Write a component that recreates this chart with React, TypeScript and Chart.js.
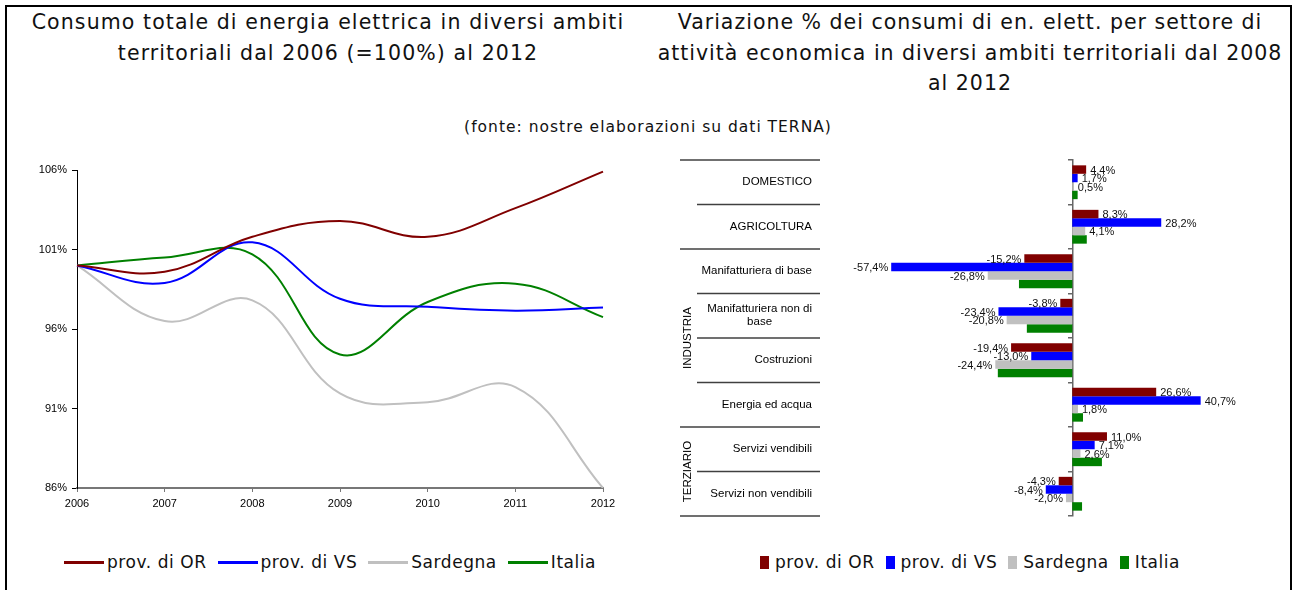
import React, { useEffect, useRef } from 'react';
import { Chart, registerables } from 'chart.js';

Chart.register(...registerables);

// ---------- Left chart data (2006 = 100%) ----------
const years = ['2006', '2007', '2008', '2009', '2010', '2011', '2012'];
const orLine = [100, 99.6, 101.8, 102.8, 101.8, 103.6, 105.9];
const vsLine = [100, 98.9, 101.45, 97.9, 97.4, 97.15, 97.35];
const sardLine = [100, 96.5, 97.8, 91.95, 91.4, 92.35, 86.0];
const italiaLine = [100, 100.5, 100.7, 94.4, 97.7, 98.85, 96.75];
const yTicksLeft = [86, 91, 96, 101, 106];

// ---------- Right chart data (variazione % 2008-2012) ----------
const sectors = [
  ['DOMESTICO'],
  ['AGRICOLTURA'],
  ['Manifatturiera di base'],
  ['Manifatturiera non di', 'base'],
  ['Costruzioni'],
  ['Energia ed acqua'],
  ['Servizi vendibili'],
  ['Servizi non vendibili'],
];
const orBar = [4.4, 8.3, -15.2, -3.8, -19.4, 26.6, 11.0, -4.3];
const vsBar = [1.7, 28.2, -57.4, -23.4, -13.0, 40.7, 7.1, -8.4];
const sardBar = [0.5, 4.1, -26.8, -20.8, -24.4, 1.8, 2.6, -2.0];
const italiaBar = [1.7, 4.6, -16.9, -14.4, -23.6, 3.4, 9.4, 3.1];
const groups = [
  { name: 'INDUSTRIA', from: 2, to: 5 },
  { name: 'TERZIARIO', from: 6, to: 7 },
];
const fullBoundaries = [0, 2, 6, 8];

const seriesNames = ['prov. di OR', 'prov. di VS', 'Sardegna', 'Italia'];
const seriesColors = ['#800000', '#0000ff', '#c0c0c0', '#008000'];

const TICK_FONT = { family: '"Liberation Sans", Arial, sans-serif', size: 11 };
const TITLE_FONT = '"DejaVu Sans", "Century Gothic", sans-serif';

const fmt = (v: number) => v.toFixed(1).replace('.', ',') + '%';

const barLabelPlugin = {
  id: 'barLabels',
  afterDatasetsDraw(chart: any) {
    const ctx = chart.ctx;
    ctx.save();
    ctx.font = '11px "Liberation Sans", Arial, sans-serif';
    ctx.fillStyle = '#111';
    ctx.textBaseline = 'middle';
    chart.data.datasets.forEach((ds: any, di: number) => {
      if (!ds.showValues) return;
      const meta = chart.getDatasetMeta(di);
      meta.data.forEach((bar: any, i: number) => {
        const v = ds.data[i];
        if (v >= 0) {
          ctx.textAlign = 'left';
          ctx.fillText(fmt(v), bar.x + 4, bar.y + 1);
        } else {
          ctx.textAlign = 'right';
          ctx.fillText(fmt(v), bar.x - 3, bar.y + 1);
        }
      });
    });
    ctx.restore();
  },
};

const sectorTablePlugin = {
  id: 'sectorTable',
  afterDraw(chart: any) {
    const ys = chart.scales.y;
    const ctx = chart.ctx;
    const n = sectors.length;
    const half = (ys.getPixelForValue(1) - ys.getPixelForValue(0)) / 2;
    const boundary = (i: number) =>
      i < n ? ys.getPixelForValue(i) - half : ys.getPixelForValue(n - 1) + half;
    ctx.save();
    ctx.strokeStyle = '#404040';
    ctx.lineWidth = 1.5;
    for (let i = 0; i <= n; i++) {
      const yy = boundary(i);
      ctx.beginPath();
      ctx.moveTo(fullBoundaries.includes(i) ? 30 : 47, yy);
      ctx.lineTo(170, yy);
      ctx.stroke();
    }
    ctx.font = '11.5px "Liberation Sans", Arial, sans-serif';
    ctx.fillStyle = '#000';
    ctx.textBaseline = 'middle';
    ctx.textAlign = 'center';
    sectors.forEach((lines, i) => {
      const cy = ys.getPixelForValue(i);
      const maxW = Math.max(...lines.map((l) => ctx.measureText(l).width));
      const cx = 162 - maxW / 2;
      const lh = 13;
      lines.forEach((l, k) => {
        ctx.fillText(l, cx, cy + (k - (lines.length - 1) / 2) * lh);
      });
    });
    groups.forEach((g) => {
      const cy = (boundary(g.from) + boundary(g.to + 1)) / 2;
      ctx.save();
      ctx.translate(38, cy);
      ctx.rotate(-Math.PI / 2);
      ctx.fillText(g.name, 0, 0);
      ctx.restore();
    });
    ctx.restore();
  },
};

export default function App() {
  const lineRef = useRef<HTMLCanvasElement>(null);
  const barRef = useRef<HTMLCanvasElement>(null);

  useEffect(() => {
    const lineSeries = [orLine, vsLine, sardLine, italiaLine];
    const lc = new Chart(lineRef.current as HTMLCanvasElement, {
      type: 'line',
      data: {
        labels: years,
        datasets: lineSeries.map((d, i) => ({
          label: seriesNames[i],
          data: d,
          borderColor: seriesColors[i],
          backgroundColor: seriesColors[i],
          borderWidth: 2,
          pointRadius: 0,
          tension: 0.4,
          fill: false,
        })),
      },
      options: {
        animation: false,
        responsive: false,
        layout: { padding: { top: 20, right: 37, left: 0, bottom: 0 } },
        plugins: { legend: { display: false }, tooltip: { enabled: false } },
        scales: {
          x: {
            type: 'category',
            offset: false,
            grid: { display: true, drawOnChartArea: false, tickLength: 4, color: '#777' },
            border: { color: '#777', width: 2 },
            ticks: { font: TICK_FONT, color: '#000', padding: 5, maxRotation: 0, autoSkip: false },
            afterFit: (s: any) => { s.height = 32; },
          },
          y: {
            min: 86,
            max: 106,
            afterBuildTicks: (s: any) => { s.ticks = yTicksLeft.map((v) => ({ value: v })); },
            ticks: { font: TICK_FONT, color: '#000', padding: 5, callback: (v: any) => v + '%' },
            grid: { display: true, drawOnChartArea: false, tickLength: 5, color: '#000' },
            border: { color: '#000', width: 1 },
            afterFit: (s: any) => { s.width = 57; },
          },
        },
      },
    } as any);

    const barSeries = [orBar, vsBar, sardBar, italiaBar];
    const bc = new Chart(barRef.current as HTMLCanvasElement, {
      type: 'bar',
      data: {
        labels: sectors.map((s) => s.join(' ')),
        datasets: barSeries.map((d, i) => ({
          label: seriesNames[i],
          data: d,
          backgroundColor: seriesColors[i],
          borderWidth: 0,
          barPercentage: 1,
          categoryPercentage: 0.76,
          showValues: i < 3,
        })),
      },
      options: {
        indexAxis: 'y',
        animation: false,
        responsive: false,
        layout: { padding: { left: 233, right: 62, top: 10, bottom: 9 } },
        plugins: { legend: { display: false }, tooltip: { enabled: false } },
        scales: {
          x: { display: false, min: -60, max: 50 },
          y: {
            position: { x: 0 },
            offset: true,
            grid: { offset: true, drawOnChartArea: false, tickLength: 4, color: '#666', lineWidth: 1.5 },
            border: { color: '#666', width: 1.5 },
            ticks: { display: false },
            afterFit: (s: any) => { s.width = 0; },
          },
        },
      },
      plugins: [barLabelPlugin, sectorTablePlugin],
    } as any);

    return () => {
      lc.destroy();
      bc.destroy();
    };
  }, []);

  const titleStyle: React.CSSProperties = {
    position: 'absolute',
    textAlign: 'center',
    fontFamily: TITLE_FONT,
    fontSize: 20.5,
    letterSpacing: '1.1px',
    lineHeight: '30.5px',
    color: '#111',
    whiteSpace: 'nowrap',
  };

  const legendText: React.CSSProperties = {
    fontFamily: TITLE_FONT,
    fontSize: 17,
    letterSpacing: '0.55px',
    color: '#111',
    whiteSpace: 'nowrap',
  };

  return (
    <div
      style={{
        position: 'absolute',
        left: 0,
        top: 0,
        width: 1292,
        height: 590,
        overflow: 'hidden',
        background: '#fff',
      }}
    >
      <div
        style={{
          position: 'absolute',
          left: 5,
          top: 5,
          width: 1283,
          height: 620,
          border: '2px solid #000',
        }}
      />
      <div style={{ ...titleStyle, left: 8, width: 640, top: 7 }}>
        Consumo totale di energia elettrica in diversi ambiti
        <br />
        territoriali dal 2006 (=100%) al 2012
      </div>
      <div style={{ ...titleStyle, left: 650, width: 640, top: 7, letterSpacing: '1px' }}>
        Variazione % dei consumi di en. elett. per settore di
        <br />
        attività economica in diversi ambiti territoriali dal 2008
        <br />
        al 2012
      </div>
      <div
        style={{
          ...titleStyle,
          fontSize: 15.5,
          letterSpacing: '1px',
          lineHeight: '20px',
          left: 348,
          width: 600,
          top: 117,
        }}
      >
        (fonte: nostre elaborazioni su dati TERNA)
      </div>

      <canvas
        ref={lineRef}
        width={620}
        height={370}
        style={{ position: 'absolute', left: 20, top: 150, width: 620, height: 370 }}
      />
      <canvas
        ref={barRef}
        width={642}
        height={375}
        style={{ position: 'absolute', left: 650, top: 150, width: 642, height: 375 }}
      />

      <div
        style={{
          position: 'absolute',
          left: 64,
          top: 550,
          height: 24,
          display: 'flex',
          alignItems: 'center',
        }}
      >
        {seriesNames.map((n, i) => (
          <div key={n} style={{ display: 'flex', alignItems: 'center', marginRight: 11 }}>
            <div style={{ width: 40, height: 3, background: seriesColors[i], marginRight: 3 }} />
            <span style={legendText}>{n}</span>
          </div>
        ))}
      </div>

      <div
        style={{
          position: 'absolute',
          left: 760,
          top: 550,
          height: 24,
          display: 'flex',
          alignItems: 'center',
        }}
      >
        {seriesNames.map((n, i) => (
          <div key={n} style={{ display: 'flex', alignItems: 'center', marginRight: 11 }}>
            <div style={{ width: 9, height: 13, background: seriesColors[i], marginRight: 6 }} />
            <span style={legendText}>{n}</span>
          </div>
        ))}
      </div>
    </div>
  );
}
